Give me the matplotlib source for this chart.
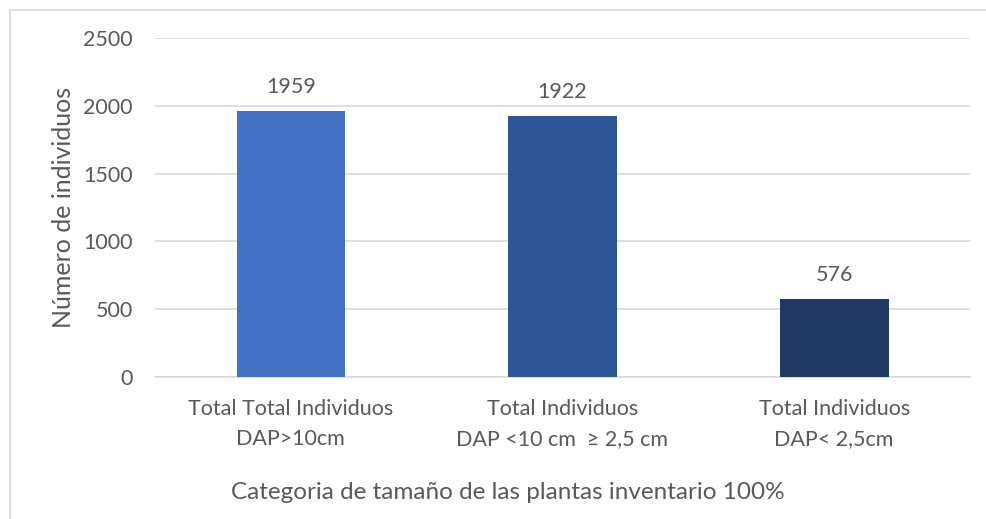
import matplotlib.pyplot as plt
from matplotlib.patches import Rectangle

# ============================================================
# DATA
# ============================================================

categories = [
    "Total Total Individuos\nDAP>10cm",
    "Total Individuos\nDAP <10 cm  ≥ 2,5 cm",
    "Total Individuos\nDAP< 2,5cm",
]
counts = [1959, 1922, 576]
bar_colors = ["#4472C4", "#2F5597", "#203864"]
y_ticks = [0, 500, 1000, 1500, 2000, 2500]

# ============================================================
# PLOT
# ============================================================

plt.rcParams["font.family"] = ["Lato", "DejaVu Sans"]
text_color = "#595959"

fig = plt.figure(figsize=(9.86, 5.19), dpi=100)
ax = fig.add_axes([155 / 986, 1 - 377 / 519, 815 / 986, 339 / 519])

x = range(len(categories))
bars = ax.bar(x, counts, width=0.4, color=bar_colors, zorder=3)

for xi, v in zip(x, counts):
    ax.text(xi, v + 105, str(v), ha="center", va="bottom",
            fontsize=15.5, color=text_color)

ax.set_xlim(-0.5, len(categories) - 0.5)
ax.set_ylim(0, 2500)
ax.set_yticks(y_ticks)
ax.set_yticklabels([str(t) for t in y_ticks], fontsize=15.5, color=text_color)
ax.set_xticks(list(x))
ax.set_xticklabels(categories, fontsize=15.5, color=text_color, linespacing=1.6)

ax.tick_params(axis="both", length=0)
ax.tick_params(axis="y", pad=16)
ax.tick_params(axis="x", pad=16)

ax.grid(axis="y", color="#D9D9D9", linewidth=1.2, zorder=0)
for s in ["top", "right", "left"]:
    ax.spines[s].set_visible(False)
ax.spines["bottom"].set_color("#D9D9D9")
ax.spines["bottom"].set_linewidth(1.2)

ax.set_ylabel("Número de individuos", fontsize=18, color=text_color, labelpad=6)
ax.set_xlabel("Categoria de tamaño de las plantas inventario 100%",
              fontsize=17.5, color=text_color, labelpad=22)
# axis title is centred on the whole chart area, not the plot area
ax.xaxis.set_label_coords((508 - 155) / 815, -0.34)
ax.xaxis.label.set_va("center")

# chart frame (only top/left edges visible in the crop)
fig.patches.append(Rectangle((10 / 986, -0.1), 1.1, 1 - 10 / 519 + 0.1,
                             transform=fig.transFigure, fill=False,
                             edgecolor="#D9D9D9", linewidth=1.2))

fig.savefig("out.png", dpi=100)
